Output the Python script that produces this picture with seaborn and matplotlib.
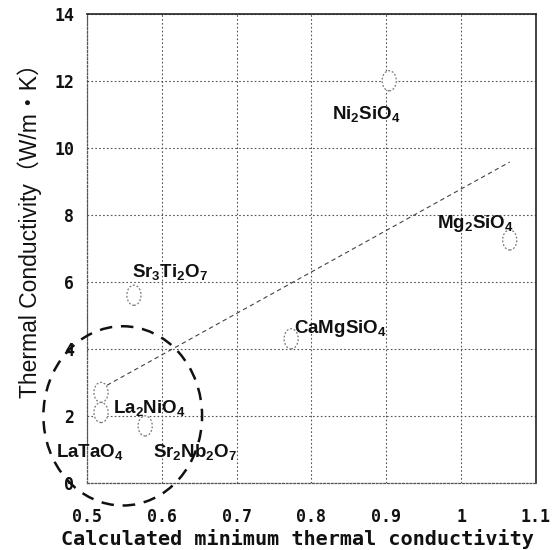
import numpy as np
import pandas as pd
import matplotlib
matplotlib.use("Agg")
import matplotlib.pyplot as plt
from matplotlib.path import Path
from matplotlib.transforms import Affine2D
from matplotlib.patches import Ellipse
import seaborn as sns

# ---- data ----
materials = ["Ni2SiO4", "Mg2SiO4", "Sr3Ti2O7", "CaMgSiO4", "La2NiO4", "LaTaO4", "Sr2Nb2O7"]
calc_min_k = [0.904, 1.065, 0.563, 0.773, 0.519, 0.519, 0.578]
thermal_k = [12.0, 7.25, 5.6, 4.3, 2.7, 2.1, 1.7]
label_text = [r"Ni$_2$SiO$_4$", r"Mg$_2$SiO$_4$", r"Sr$_3$Ti$_2$O$_7$", r"CaMgSiO$_4$",
              r"La$_2$NiO$_4$", r"LaTaO$_4$", r"Sr$_2$Nb$_2$O$_7$"]
label_x = [0.828, 0.968, 0.561, 0.777, 0.535, 0.459, 0.588]
label_y = [11.0, 7.75, 6.3, 4.6, 2.25, 0.92, 0.92]
x_ticks = [0.5, 0.6, 0.7, 0.8, 0.9, 1.0, 1.1]
x_ticklabels = ["0.5", "0.6", "0.7", "0.8", "0.9", "1", "1.1"]
y_ticks = [0, 2, 4, 6, 8, 10, 12, 14]
group_center = (0.548, 2.0)
group_size = (0.212, 5.35)

df = pd.DataFrame({"material": materials, "x": calc_min_k, "y": thermal_k})

sns.set_theme(style="white")
plt.rcParams["font.family"] = ["Liberation Sans", "Noto Sans CJK JP", "DejaVu Sans"]
plt.rcParams["mathtext.fontset"] = "custom"
plt.rcParams["mathtext.rm"] = "Liberation Sans:bold"
plt.rcParams["mathtext.it"] = "Liberation Sans:bold"
plt.rcParams["mathtext.bf"] = "Liberation Sans:bold"

fig = plt.figure(figsize=(5.6, 5.5), dpi=100)
ax = fig.add_axes([0.155, 0.122, 0.802, 0.853])

# elliptical open marker
ell = Path.unit_circle().transformed(Affine2D().scale(0.7, 1.0))
sns.scatterplot(data=df, x="x", y="y", ax=ax, marker=ell, s=210,
                facecolor="white", edgecolor="#777777", linewidth=0.9,
                linestyle=(0, (1.5, 1.5)), zorder=4, legend=False)

# linear fit line
coef = np.polyfit(df["x"], df["y"], 1)
fx = np.array([df["x"].min() + 0.008, df["x"].max()])
fit = pd.DataFrame({"x": fx, "y": np.polyval(coef, fx)})
sns.lineplot(data=fit, x="x", y="y", ax=ax, color="#444444", linewidth=0.8,
             linestyle=(0, (4, 3)), zorder=3)

for t, lx, ly in zip(label_text, label_x, label_y):
    ax.text(lx, ly, t, fontsize=13.5, fontweight="bold", ha="left", va="center",
            color="#111111", zorder=5)

# big dashed group ellipse
ax.add_patch(Ellipse(group_center, group_size[0], group_size[1], fill=False,
                     edgecolor="#111111", linewidth=1.8, linestyle=(0, (5, 3.5)),
                     clip_on=False, zorder=6))

ax.set_xlim(0.5, 1.1)
ax.set_ylim(0, 14)
ax.set_xticks(x_ticks)
ax.set_xticklabels(x_ticklabels)
ax.set_yticks(y_ticks)
ax.grid(True, color="#555555", linestyle=(0, (1.5, 2)), linewidth=0.8)
ax.tick_params(axis="x", length=0, pad=18)
ax.tick_params(axis="y", length=0, pad=9)
for lab in ax.get_xticklabels() + ax.get_yticklabels():
    lab.set_family(["DejaVu Sans Mono"])
    lab.set_fontweight("bold")
    lab.set_fontsize(12)
    lab.set_color("#111111")

for s in ["left", "bottom"]:
    ax.spines[s].set_color("#555555")
    ax.spines[s].set_linestyle((0, (1.5, 1.5)))
    ax.spines[s].set_linewidth(0.9)
for s in ["top", "right"]:
    ax.spines[s].set_color("#222222")
    ax.spines[s].set_linewidth(1.2)

ax.set_xlabel("Calculated minimum thermal conductivity", family=["DejaVu Sans Mono"],
              fontweight="bold", fontsize=14.5, color="#111111", va="top")
ax.xaxis.set_label_coords(0.47, -0.098)
ax.set_ylabel("Thermal Conductivity（W/m・K）", family=["Liberation Sans", "Noto Sans CJK JP"],
              fontsize=16.5, color="#111111")
ax.yaxis.set_label_coords(-0.10, 0.55)

fig.savefig("out.png", dpi=100)
